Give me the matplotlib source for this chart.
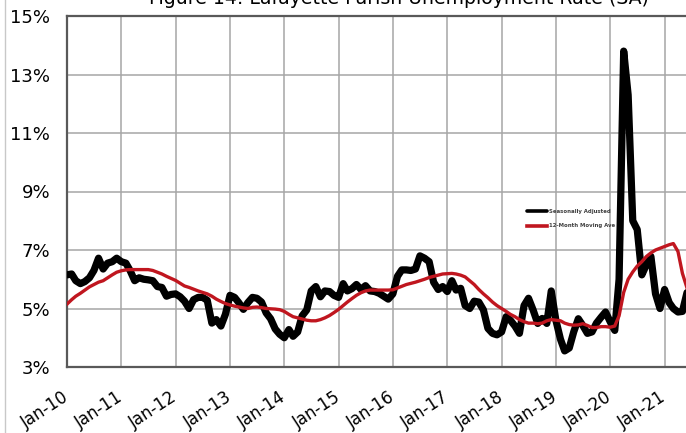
import matplotlib
matplotlib.use('Agg')
import matplotlib.pyplot as plt
import matplotlib.transforms as mtransforms
from matplotlib.lines import Line2D
import pandas as pd

# ---- data (monthly, Jan 2010 onward) ----
sa_2010 = [6.15, 6.18, 5.95, 5.85, 5.92, 6.05, 6.30, 6.72, 6.35, 6.55, 6.60, 6.72]
sa_2011 = [6.60, 6.55, 6.30, 5.95, 6.05, 6.00, 5.98, 5.95, 5.75, 5.72, 5.42, 5.48]
sa_2012 = [5.50, 5.40, 5.25, 5.00, 5.30, 5.38, 5.38, 5.28, 4.50, 4.62, 4.40, 4.80]
sa_2013 = [5.45, 5.38, 5.20, 4.97, 5.20, 5.38, 5.35, 5.22, 4.85, 4.65, 4.30, 4.12]
sa_2014 = [4.00, 4.28, 4.05, 4.20, 4.75, 4.95, 5.60, 5.75, 5.40, 5.60, 5.58, 5.45]
sa_2015 = [5.38, 5.85, 5.60, 5.68, 5.82, 5.65, 5.78, 5.60, 5.58, 5.52, 5.42, 5.32]
sa_2016 = [5.50, 6.10, 6.32, 6.32, 6.30, 6.35, 6.80, 6.72, 6.60, 5.90, 5.65, 5.75]
sa_2017 = [5.58, 5.95, 5.63, 5.69, 5.10, 5.00, 5.25, 5.22, 4.95, 4.32, 4.15, 4.10]
sa_2018 = [4.20, 4.72, 4.60, 4.40, 4.15, 5.10, 5.35, 4.95, 4.49, 4.66, 4.49, 5.60]
sa_2019 = [4.60, 3.95, 3.55, 3.65, 4.20, 4.65, 4.42, 4.15, 4.20, 4.50, 4.70, 4.88]
sa_2020 = [4.55, 4.25, 6.00, 13.80, 12.30, 8.00, 7.70, 6.15, 6.50, 6.78, 5.50, 5.00]
sa_2021 = [5.65, 5.20, 5.00, 4.88, 4.90, 5.55]

ma_2010 = [5.15, 5.30, 5.42, 5.52, 5.63, 5.74, 5.82, 5.90, 5.95, 6.05, 6.15, 6.24]
ma_2011 = [6.29, 6.32, 6.33, 6.33, 6.33, 6.33, 6.33, 6.30, 6.24, 6.18, 6.10, 6.03]
ma_2012 = [5.96, 5.86, 5.77, 5.72, 5.66, 5.60, 5.55, 5.50, 5.42, 5.32, 5.24, 5.17]
ma_2013 = [5.12, 5.08, 5.05, 5.02, 5.00, 5.04, 5.05, 5.03, 5.00, 4.99, 4.98, 4.96]
ma_2014 = [4.90, 4.80, 4.72, 4.68, 4.64, 4.60, 4.58, 4.58, 4.62, 4.68, 4.76, 4.86]
ma_2015 = [4.97, 5.10, 5.22, 5.34, 5.45, 5.54, 5.60, 5.63, 5.63, 5.63, 5.63, 5.63]
ma_2016 = [5.64, 5.70, 5.76, 5.82, 5.86, 5.90, 5.95, 6.00, 6.06, 6.10, 6.14, 6.18]
ma_2017 = [6.19, 6.20, 6.18, 6.14, 6.08, 5.95, 5.82, 5.65, 5.50, 5.37, 5.22, 5.10]
ma_2018 = [5.00, 4.90, 4.80, 4.72, 4.62, 4.55, 4.50, 4.50, 4.48, 4.50, 4.58, 4.62]
ma_2019 = [4.60, 4.58, 4.50, 4.45, 4.43, 4.44, 4.48, 4.42, 4.35, 4.35, 4.38, 4.38]
ma_2020 = [4.36, 4.40, 4.75, 5.55, 6.00, 6.25, 6.45, 6.60, 6.78, 6.90, 7.00, 7.06]
ma_2021 = [7.12, 7.18, 7.22, 6.95, 6.20, 5.70]

sa = sa_2010 + sa_2011 + sa_2012 + sa_2013 + sa_2014 + sa_2015 + sa_2016 + sa_2017 + sa_2018 + sa_2019 + sa_2020 + sa_2021
ma = ma_2010 + ma_2011 + ma_2012 + ma_2013 + ma_2014 + ma_2015 + ma_2016 + ma_2017 + ma_2018 + ma_2019 + ma_2020 + ma_2021
dates = pd.date_range('2010-01-01', periods=len(sa), freq='MS')

tick_years = list(range(2010, 2022))
tick_labels = ['Jan-%02d' % (y % 100) for y in tick_years]
y_ticks = [3, 5, 7, 9, 11, 13, 15]
y_labels = ['%d%%' % v for v in y_ticks]

title = 'Figure 14: Lafayette Parish Unemployment Rate (SA)'
label_sa = 'Seasonally Adjusted'
label_ma = '12-Month Moving Average'

# ---- figure ----
W, H = 686, 433
fig = plt.figure(figsize=(W / 100, H / 100), dpi=100)
ax = fig.add_axes([67 / W, 1 - 367 / H, 1 - 67 / W, (367 - 16) / H])

ax.plot(dates, sa, color='black', lw=5.2, solid_joinstyle='round',
        solid_capstyle='round', label=label_sa, zorder=3)
ax.plot(dates, ma, color='#c0161f', lw=2.4, solid_joinstyle='round',
        label=label_ma, zorder=4)

ax.set_xlim(pd.Timestamp('2010-01-01'), pd.Timestamp('2021-05-25'))
ax.set_ylim(3, 15)
ax.set_yticks(y_ticks)
ax.set_yticklabels(y_labels, fontsize=13)
tick_dates = [pd.Timestamp('%d-01-01' % y) for y in tick_years]
ax.set_xticks(tick_dates)
ax.set_xticklabels(tick_labels, fontsize=12, rotation=33, ha='right',
                   va='center', rotation_mode='anchor')
ax.tick_params(axis='x', length=0, pad=21)
ax.tick_params(axis='y', length=0, pad=12)

ax.grid(True, color='#a6a6a6', lw=1.1)
ax.set_axisbelow(True)
for side in ['left', 'bottom', 'top']:
    ax.spines[side].set_color('#595959')
    ax.spines[side].set_linewidth(1.6)
ax.spines['right'].set_visible(False)

# legend
leg = ax.legend(loc='upper left', bbox_to_anchor=(527 / W, 1 - 209 / H),
                bbox_transform=fig.transFigure, frameon=False,
                prop={'size': 3.9, 'weight': 'bold'}, handlelength=3.6,
                handletextpad=0.5, labelspacing=1.75, borderpad=0,
                borderaxespad=0)
for t in leg.get_texts():
    t.set_color('#404040')
for ln in leg.get_lines():
    ln.set_linewidth(2.6)
clip = mtransforms.TransformedBbox(mtransforms.Bbox.from_extents(0, 0, 615 / W, 1),
                                   fig.transFigure)
leg.get_texts()[1].set_clip_box(clip)
leg.get_texts()[1].set_clip_on(True)

# title (mostly cropped off in the reference)
fig.text(399 / W, 1 - 3.5 / H, title, ha='center', va='baseline', fontsize=13.6)

# outer chart frame line at left
fig.add_artist(Line2D([5 / W, 5 / W], [0, 1], transform=fig.transFigure,
                      color='#c8c8c8', lw=1))

fig.savefig('out.png', dpi=100)
